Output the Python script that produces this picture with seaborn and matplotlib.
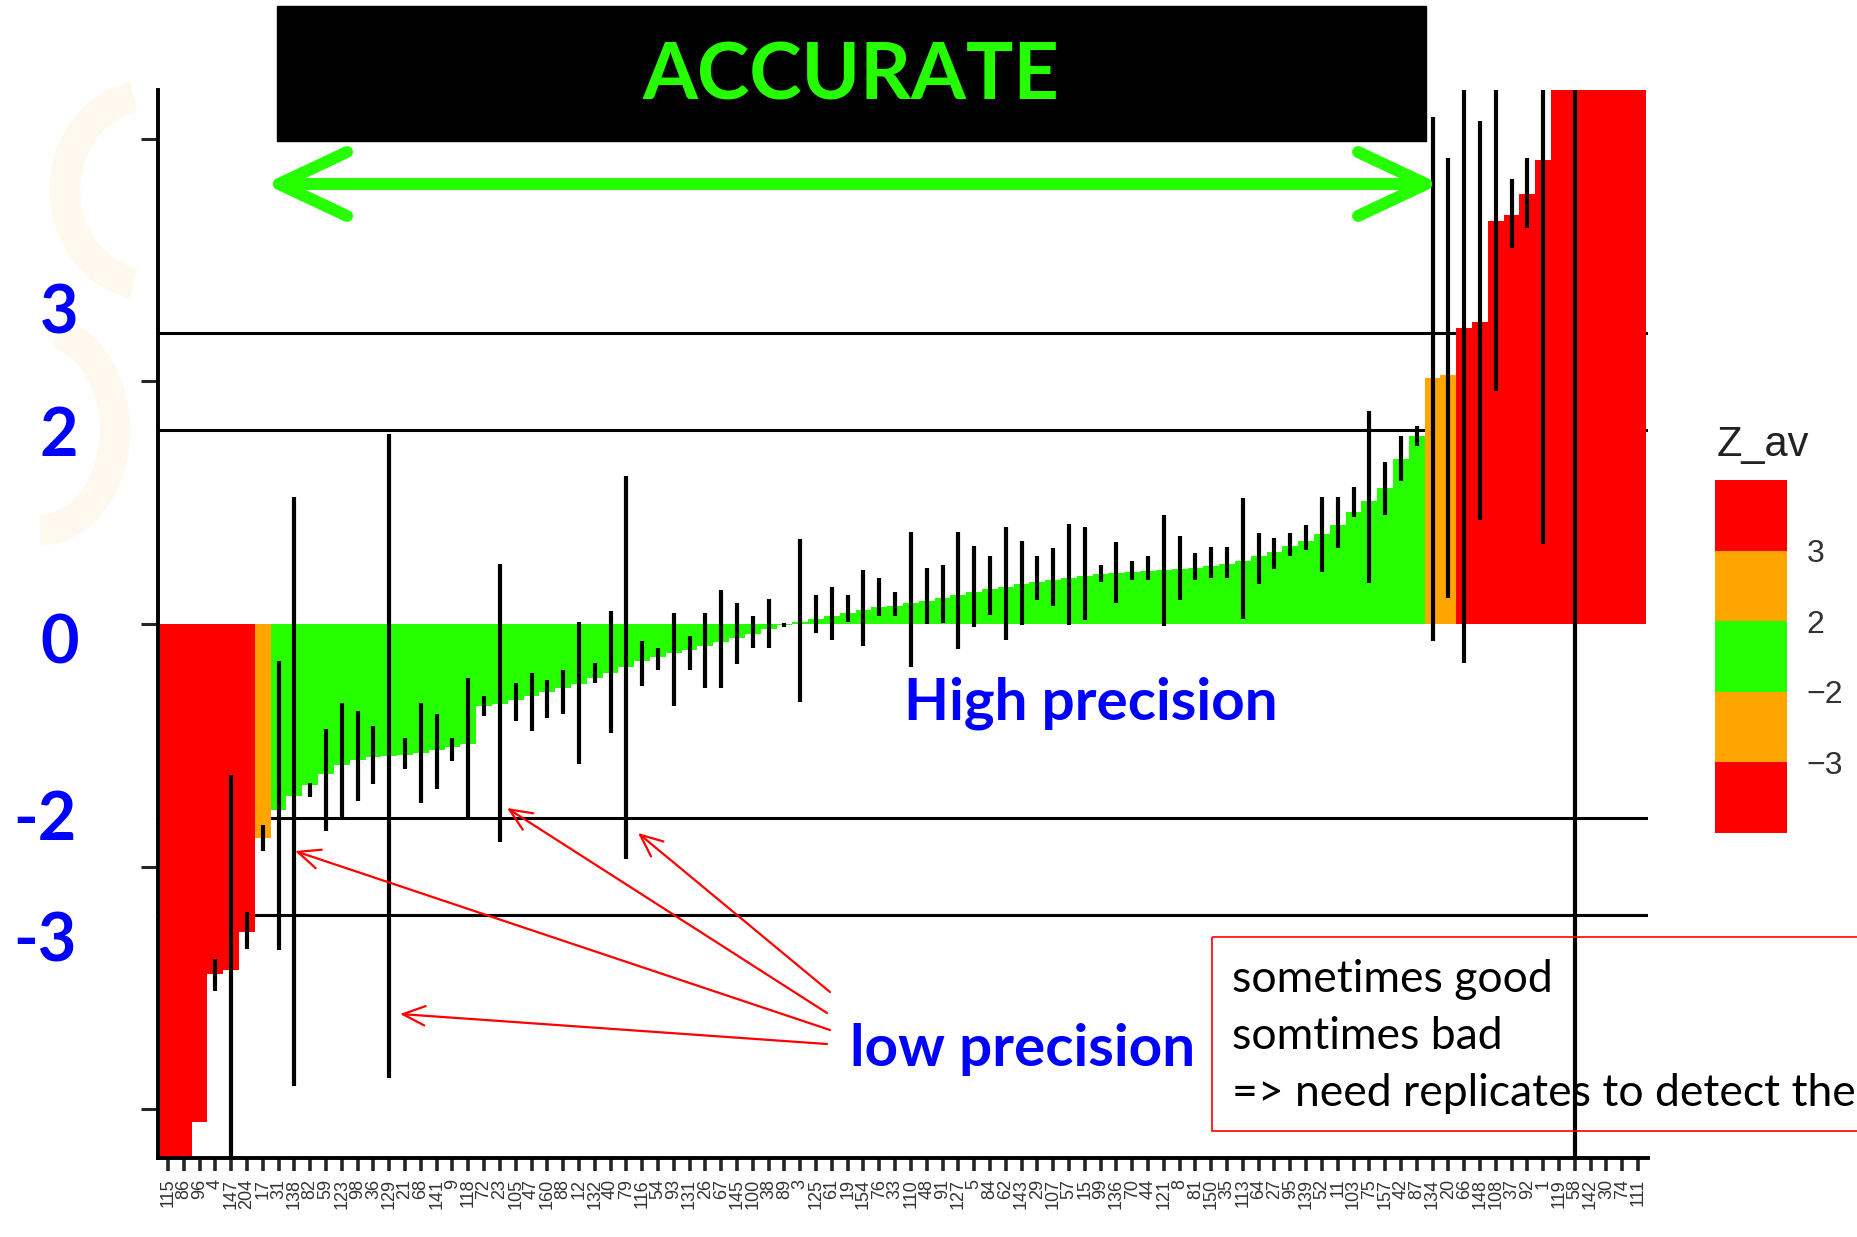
import numpy as np
import pandas as pd
import seaborn as sns
import matplotlib.pyplot as plt
from matplotlib.colors import ListedColormap, BoundaryNorm
from matplotlib.colorbar import ColorbarBase
from matplotlib.patches import Rectangle, Arc

sns.set_theme(style="white")
plt.rcParams['font.family'] = ['Liberation Sans', 'DejaVu Sans']

nan = np.nan

# lab codes (tick labels, unreadable in the source -> placeholders)
labs = ["115", "86", "96", "4", "147", "204", "17", "31", "138", "82",
        "59", "123", "98", "36", "129", "21", "68", "141", "9", "118",
        "72", "23", "105", "47", "160", "88", "12", "132", "40", "79",
        "116", "54", "93", "131", "26", "67", "145", "100", "38", "89",
        "3", "125", "61", "19", "154", "76", "33", "110", "48", "91",
        "127", "5", "84", "62", "143", "29", "107", "57", "15", "99",
        "136", "70", "44", "121", "8", "81", "150", "35", "113", "64",
        "27", "95", "139", "52", "11", "103", "75", "157", "42", "87",
        "134", "20", "66", "148", "108", "37", "92", "1", "119", "58",
        "142", "30", "74", "111"]

# mean z-score per lab (sorted)
z_av = [-7.0, -5.8, -5.13, -3.6, -3.56, -3.17, -2.2, -1.92, -1.77, -1.66,
        -1.55, -1.45, -1.40, -1.37, -1.36, -1.35, -1.33, -1.30, -1.27, -1.24,
        -0.84, -0.82, -0.78, -0.74, -0.70, -0.66, -0.62, -0.56, -0.50, -0.44,
        -0.38, -0.34, -0.30, -0.27, -0.23, -0.19, -0.14, -0.10, -0.05, -0.01,
        0.02, 0.05, 0.08, 0.11, 0.14, 0.17, 0.19, 0.22, 0.24, 0.27,
        0.30, 0.33, 0.36, 0.38, 0.41, 0.43, 0.45, 0.47, 0.49, 0.51,
        0.53, 0.54, 0.55, 0.56, 0.57, 0.58, 0.60, 0.62, 0.65, 0.70,
        0.74, 0.80, 0.86, 0.93, 1.02, 1.15, 1.27, 1.40, 1.70, 1.94,
        2.53, 2.56, 3.05, 3.11, 4.15, 4.21, 4.43, 4.78, 5.9, 6.3,
        6.8, 7.4, 8.1, 9.5]

# replicate range (min / max z)
z_lo = [nan, nan, nan, -3.78, -6.0, -3.35, -2.34, -3.36, -4.76, -1.78,
        -2.13, -2.0, -1.82, -1.65, -4.68, -1.49, -1.84, -1.70, -1.41, -1.99,
        -0.95, -2.25, -1.0, -1.1, -0.97, -0.93, -1.44, -0.61, -1.12, -2.42,
        -0.64, -0.47, -0.84, -0.47, -0.66, -0.66, -0.41, -0.25, -0.25, -0.03,
        -0.80, -0.09, -0.16, 0.02, -0.23, 0.08, 0.08, -0.44, 0.0, 0.01,
        -0.26, -0.03, 0.09, -0.16, -0.01, 0.25, 0.19, -0.01, 0.04, 0.43,
        0.22, 0.45, 0.45, -0.02, 0.25, 0.45, 0.47, 0.47, 0.05, 0.41,
        0.57, 0.70, 0.76, 0.54, 0.78, 1.10, 0.42, 1.12, 1.47, 1.83,
        -0.18, 0.27, -0.40, 1.07, 2.40, 3.87, 4.08, 0.82, nan, -6.0,
        nan, nan, nan, nan]
z_hi = [nan, nan, nan, -3.45, -1.56, -2.97, -2.07, -0.38, 1.31, -1.64,
        -1.08, -0.81, -0.90, -1.05, 1.96, -1.17, -0.81, -0.93, -1.17, -0.56,
        -0.74, 0.62, -0.61, -0.5, -0.58, -0.47, 0.02, -0.40, 0.13, 1.52,
        -0.18, -0.25, 0.11, -0.12, 0.11, 0.35, 0.22, 0.08, 0.26, 0.01,
        0.88, 0.30, 0.38, 0.30, 0.56, 0.47, 0.33, 0.95, 0.58, 0.61,
        0.95, 0.80, 0.70, 1.0, 0.85, 0.70, 0.78, 1.03, 1.0, 0.61,
        0.84, 0.65, 0.70, 1.12, 0.91, 0.73, 0.79, 0.79, 1.30, 0.94,
        0.89, 0.94, 1.02, 1.31, 1.31, 1.41, 2.19, 1.67, 1.94, 2.04,
        5.22, 4.80, 6.0, 5.18, 6.0, 4.58, 4.80, 6.0, nan, 6.0,
        nan, nan, nan, nan]

limits = [-3, -2, 2, 3]
legend_labels = ["\u22123", "\u22122", "2", "3"]

RED, ORANGE, GREEN = "#ff0000", "#ffa500", "#26ff00"
BLUE = "#0000ff"
pal = {"bad": RED, "warn": ORANGE, "ok": GREEN}


def zclass(z):
    if abs(z) > 3:
        return "bad"
    if abs(z) > 2:
        return "warn"
    return "ok"


df = pd.DataFrame({"lab": labs, "z": z_av, "lo": z_lo, "hi": z_hi})
df["cls"] = df["z"].apply(zclass)

W, H = 1857, 1237
fig = plt.figure(figsize=(W / 100, H / 100), dpi=100)
fig.patch.set_facecolor("white")

# faint slide watermark behind the plot
bg = fig.add_axes([0, 0, 1, 1], zorder=-1)
bg.set_xlim(0, W)
bg.set_ylim(H, 0)
bg.axis("off")
bg.add_patch(Arc((150, 190), 170, 190, theta1=100, theta2=260, lw=22, color="#fef8ef"))
bg.add_patch(Arc((40, 430), 150, 200, theta1=-80, theta2=90, lw=22, color="#fef8ef"))

ax = fig.add_axes([157.5 / W, 79 / H, (1648 - 157.5) / W, 1068 / H])
for y in limits:
    ax.axhline(y, color="black", lw=2.2, zorder=0.5)

sns.barplot(data=df, x="lab", y="z", hue="cls", palette=pal, order=labs,
            dodge=False, width=1.0, linewidth=0, saturation=1,
            errorbar=None, legend=False, ax=ax)

ok = df["lo"].notna()
pos = np.arange(len(df))
ax.vlines(pos[ok], df.loc[ok, "lo"], df.loc[ok, "hi"], colors="black", lw=3.0, zorder=3)

ax.set_xlim(-0.66, len(labs) - 0.37)
ax.set_ylim(-5.5, 5.5)
ax.set_yticks([-5, -2.5, 0, 2.5, 5])
ax.tick_params(axis="y", left=True, length=12, width=2.2, direction="out", labelleft=False)
ax.tick_params(axis="x", bottom=True, length=9, width=2.6, direction="out",
               labelsize=13, labelcolor="#333333", rotation=90, pad=6)
ax.set_xlabel("")
ax.set_ylabel("")
for s in ["top", "right"]:
    ax.spines[s].set_visible(False)
for s in ["left", "bottom"]:
    ax.spines[s].set_color("black")
    ax.spines[s].set_linewidth(2.8)
ax.set_facecolor("white")

# legend (Z_av)
cax = fig.add_axes([1715 / W, 1 - 833 / H, 72 / W, 353 / H])
cb = ColorbarBase(cax, cmap=ListedColormap([RED, ORANGE, GREEN, ORANGE, RED]),
                  norm=BoundaryNorm([0, 1, 2, 3, 4, 5], 5), ticks=[1, 2, 3, 4])
cb.set_ticklabels(legend_labels)
cb.outline.set_visible(False)
cax.minorticks_off()
cax.tick_params(which="both", length=0, labelsize=23, pad=14, labelcolor="#333333")

# slide annotations, pixel coordinates
ov = fig.add_axes([0, 0, 1, 1])
ov.set_xlim(0, W)
ov.set_ylim(H, 0)
ov.axis("off")

ov.text(1717, 456, "Z_av", fontsize=30, color="#222222", ha="left", va="baseline")

ov.add_patch(Rectangle((277, 6), 1149, 135, color="black"))
ov.text(851, 78, "ACCURATE", fontsize=57, fontweight="bold", family="Lato",
        color=GREEN, ha="center", va="center")
ov.plot([279, 1426], [184, 184], color=GREEN, lw=8.6, solid_capstyle="round")
ov.plot([347, 279, 347], [152, 184, 216], color=GREEN, lw=8.6,
        solid_capstyle="round", solid_joinstyle="round")
ov.plot([1358, 1426, 1358], [152, 184, 216], color=GREEN, lw=8.6,
        solid_capstyle="round", solid_joinstyle="round")

for txt, x, y in [("3", 59, 333), ("2", 59, 456), ("0", 60, 663),
                  ("-2", 45, 840), ("-3", 45, 962)]:
    ov.text(x, y, txt, fontsize=48, fontweight="bold", family="Lato",
            color=BLUE, ha="center", va="baseline")

ov.text(904, 720, "High precision", fontsize=42, fontweight="bold", family="Lato",
        color=BLUE, ha="left", va="baseline")
ov.text(850, 1066, "low precision", fontsize=42, fontweight="bold", family="Lato",
        color=BLUE, ha="left", va="baseline")

for start, tip in [((830, 992), (638, 833)), ((827, 1013), (507, 808)),
                   ((830, 1030), (295, 851)), ((827, 1044), (400, 1014))]:
    ov.annotate("", xy=tip, xytext=start,
                arrowprops=dict(arrowstyle="->,head_length=0.8,head_width=0.35",
                                color="red", lw=1.6, mutation_scale=20,
                                shrinkA=0, shrinkB=0))

ov.add_patch(Rectangle((1212, 937), 700, 194, fill=False, edgecolor="red", lw=1.2))
for txt, y in [("sometimes good", 992), ("somtimes bad", 1049),
               ("=> need replicates to detect these", 1106)]:
    ov.text(1232, y, txt, fontsize=32, family="Lato", color="black",
            ha="left", va="baseline")

fig.savefig("out.png", dpi=100)
